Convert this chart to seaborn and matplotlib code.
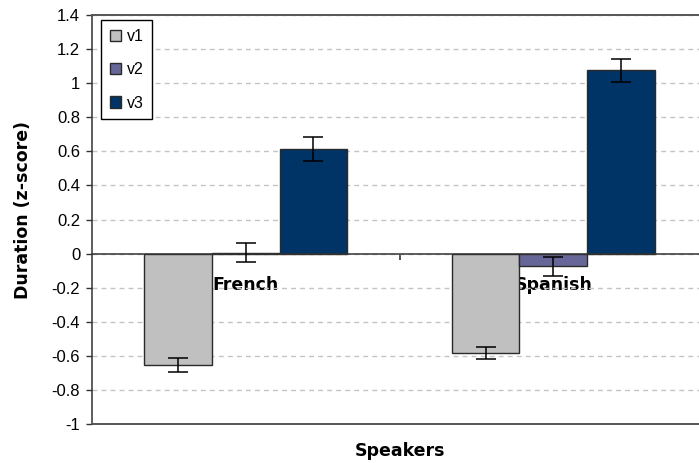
import matplotlib
matplotlib.use("Agg")
import matplotlib.pyplot as plt
import numpy as np
import pandas as pd
import seaborn as sns

# Category and series data
speakers = ["French", "Spanish"]
vowels = ["v1", "v2", "v3"]
french_means = [-0.655, 0.005, 0.616]
spanish_means = [-0.583, -0.074, 1.075]
french_err = [0.04, 0.055, 0.07]
spanish_err = [0.036, 0.055, 0.067]
ytick_values = [-1, -0.8, -0.6, -0.4, -0.2, 0, 0.2, 0.4, 0.6, 0.8, 1, 1.2, 1.4]
ytick_labels = ["-1", "-0.8", "-0.6", "-0.4", "-0.2", "0", "0.2", "0.4",
                "0.6", "0.8", "1", "1.2", "1.4"]
colors = ["#C0C0C0", "#666699", "#003366"]

df = pd.DataFrame({
    "speaker": [s for s in speakers for _ in vowels],
    "vowel": vowels * len(speakers),
    "duration": french_means + spanish_means,
    "err": french_err + spanish_err,
})

sns.set_style("white")
plt.rcParams["font.family"] = ["Liberation Sans", "DejaVu Sans"]
plt.rcParams["text.color"] = "black"
plt.rcParams["xtick.color"] = "black"
plt.rcParams["ytick.color"] = "black"

fig = plt.figure(figsize=(6.99, 4.63), dpi=100)
ax = fig.add_axes([92 / 699, 39 / 463, 615 / 699, 409 / 463])

sns.barplot(data=df, x="speaker", y="duration", hue="vowel", order=speakers,
            hue_order=vowels, palette=colors, saturation=1, width=0.66,
            edgecolor="#2a2a2a", linewidth=1.0, errorbar=None, ax=ax)

# error bars placed on each drawn bar
for container, v in zip(ax.containers, vowels):
    sub = df[df["vowel"] == v].set_index("speaker").loc[speakers]
    xs = [p.get_x() + p.get_width() / 2 for p in container.patches]
    ax.errorbar(xs, sub["duration"].values, yerr=sub["err"].values, fmt="none",
                ecolor="#000000", elinewidth=1.1, capsize=7.5, capthick=1.1,
                zorder=4)

ax.set_xlim(-0.5, 1.5)
ax.set_ylim(-1, 1.4)
ax.set_yticks(ytick_values, labels=ytick_labels)
ax.tick_params(axis="y", direction="out", length=4.5, width=1.0,
               color="#333333", labelcolor="black", labelsize=12, pad=4,
               left=True)

# category axis crosses at zero
ax.spines["bottom"].set_position(("data", 0))
ax.spines["bottom"].set_color("#333333")
ax.spines["bottom"].set_linewidth(1.1)
ax.spines["left"].set_color("#333333")
ax.spines["left"].set_linewidth(1.1)
ax.spines["top"].set_color("#555555")
ax.spines["top"].set_linewidth(1.4)
ax.spines["right"].set_visible(False)
ax.axhline(-1, color="#555555", linewidth=1.4, clip_on=False, zorder=3)

ax.set_xticks([0.5], labels=[""])
ax.set_xticks([0, 1], labels=speakers, minor=True)
ax.tick_params(axis="x", which="major", direction="out", length=4,
               width=1.2, color="#333333", bottom=True)
ax.tick_params(axis="x", which="minor", length=0, pad=16, labelcolor="black")
for lbl in ax.get_xticklabels(minor=True):
    lbl.set_fontfamily("DejaVu Sans")
    lbl.set_fontweight("bold")
    lbl.set_fontsize(12.5)

ax.yaxis.grid(True, color="#C4C4C4", linestyle=(0, (3.5, 3)), linewidth=1.0)
ax.xaxis.grid(False)
ax.set_axisbelow(True)

ax.set_xlabel("")
ax.set_ylabel("")
fig.text(400 / 699, 1 - 451 / 463, "Speakers", ha="center", va="center",
         fontsize=12.5, fontweight="bold", family="DejaVu Sans", color="black")
fig.text(23 / 699, 1 - 210 / 463, "Duration (z-score)", ha="center",
         va="center", rotation=90, fontsize=12.5, fontweight="bold",
         family="DejaVu Sans", color="black")

handles, labels = ax.get_legend_handles_labels()
leg = ax.legend(handles, labels, loc="upper left",
                bbox_to_anchor=(9 / 615, 1 - 5 / 409), borderaxespad=0,
                fontsize=11.5, frameon=True, fancybox=False,
                handlelength=0.7, handleheight=0.7, handletextpad=0.35,
                labelspacing=1.15, borderpad=0.55, labelcolor="black")
leg.get_frame().set_edgecolor("#000000")
leg.get_frame().set_linewidth(1.0)
leg.get_frame().set_alpha(1)

fig.savefig("out.png", dpi=100)
